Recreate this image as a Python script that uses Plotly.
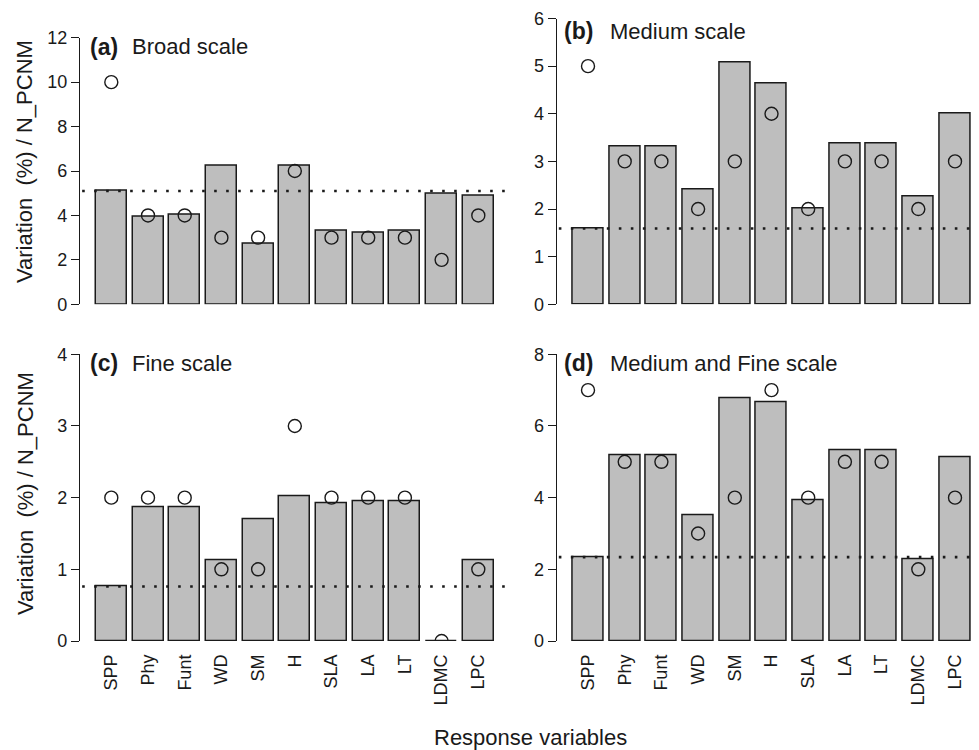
import plotly.graph_objects as go

variables = ["SPP", "Phy", "Funt", "WD", "SM", "H", "SLA", "LA", "LT", "LDMC", "LPC"]

broad_bar = [5.1, 3.93, 4.02, 6.25, 2.73, 6.25, 3.3, 3.24, 3.3, 4.98, 4.9]
broad_pt = [10, 4, 4, 3, 3, 6, 3, 3, 3, 2, 4]

medium_bar = [1.59, 3.32, 3.32, 2.41, 5.08, 4.63, 2.01, 3.37, 3.37, 2.27, 4.01]
medium_pt = [5, 3, 3, 2, 3, 4, 2, 3, 3, 2, 3]

fine_bar = [0.76, 1.86, 1.86, 1.12, 1.70, 2.02, 1.92, 1.945, 1.945, 0.0, 1.12]
fine_pt = [2, 2, 2, 1, 1, 3, 2, 2, 2, 0, 1]

medfine_bar = [2.34, 5.18, 5.18, 3.52, 6.78, 6.66, 3.94, 5.32, 5.32, 2.27, 5.13]
medfine_pt = [7, 5, 5, 3, 4, 7, 4, 5, 5, 2, 4]

panels = [
    ("(a)", "Broad scale", broad_bar, broad_pt, [0, 2, 4, 6, 8, 10, 12]),
    ("(b)", "Medium scale", medium_bar, medium_pt, [0, 1, 2, 3, 4, 5, 6]),
    ("(c)", "Fine scale", fine_bar, fine_pt, [0, 1, 2, 3, 4]),
    ("(d)", "Medium and Fine scale", medfine_bar, medfine_pt, [0, 2, 4, 6, 8]),
]

# page body has an 8px default margin; lay out in page pixels and shift
OFF = 8
W, H = 979 - OFF, 750 - OFF
FONT = "Liberation Sans, Arial, sans-serif"
INK = "#1a1a1a"


def px(xp):
    return (xp - OFF) / W


def py(yp):
    return 1 - (yp - OFF) / H


# page-pixel geometry of each panel: (left, right, top, bottom)
geom = [
    (80, 510, 37.7, 304.3),
    (556.7, 979, 18.5, 304.3),
    (80, 510, 354.3, 641),
    (556.7, 979, 354.3, 641),
]
# page-pixel (x of bold tag, x of title text, y centre) of each panel heading
heads = [(88, 130, 46.5), (562, 608, 31), (88, 130, 363), (562, 608, 363)]
unit_px = 36.7
x_left = -0.853

fig = go.Figure()
xs = list(range(len(variables)))

annotations = []
shapes = []
layout_axes = {}

for i, (tag, title, bars, pts, yt) in enumerate(panels):
    n = "" if i == 0 else str(i + 1)
    xa, ya = "x" + n, "y" + n
    L, R, T, B = geom[i]
    fig.add_trace(go.Bar(
        x=xs, y=bars, width=0.845, xaxis=xa, yaxis=ya,
        marker=dict(color="#bebebe", line=dict(color=INK, width=1.5)),
        showlegend=False, hoverinfo="skip",
    ))
    fig.add_trace(go.Scatter(
        x=xs, y=pts, mode="markers", xaxis=xa, yaxis=ya,
        marker=dict(symbol="circle-open", size=13, color=INK, line=dict(width=1.4, color=INK)),
        showlegend=False, hoverinfo="skip",
    ))
    x_right = x_left + (R - L) / unit_px
    bottom_row = i >= 2
    layout_axes["xaxis" + n] = dict(
        domain=[px(L), min(1.0, px(R))], range=[x_left, x_right], anchor=ya,
        tickvals=xs, ticktext=variables if bottom_row else [""] * len(xs),
        showticklabels=bottom_row, tickangle=-90, ticks="",
        ticklabelstandoff=9, automargin=False, ticklabeloverflow="allow",
        showline=False, showgrid=False, zeroline=False,
        tickfont=dict(family=FONT, size=18, color=INK),
    )
    layout_axes["yaxis" + n] = dict(
        domain=[py(B), py(T)], range=[0, yt[-1]], anchor=xa,
        tickvals=yt, ticks="outside", ticklen=8, tickwidth=1.2, tickcolor=INK,
        showline=True, linecolor=INK, linewidth=1.2, automargin=False,
        ticklabeloverflow="allow",
        showgrid=False, zeroline=False,
        tickfont=dict(family=FONT, size=18, color=INK),
    )
    # reference dotted line at the SPP level
    shapes.append(dict(
        type="line", xref=xa + " domain", yref=ya, x0=0.005, x1=1, y0=bars[0], y1=bars[0],
        line=dict(color=INK, width=2.6, dash="2.6px,9.4px"), layer="above",
    ))
    hx_tag, hx_title, hy = heads[i]
    annotations.append(dict(
        text="<b>" + tag + "</b>", xref="paper", yref="paper",
        x=px(hx_tag), y=py(hy), xanchor="left", yanchor="middle", showarrow=False,
        font=dict(family=FONT, size=23, color=INK),
    ))
    annotations.append(dict(
        text=title, xref="paper", yref="paper",
        x=px(hx_title), y=py(hy),
        xanchor="left", yanchor="middle", showarrow=False,
        font=dict(family=FONT, size=22, color=INK),
    ))

ylabel = "Variation\u00a0\u00a0(%) / N_PCNM"
for yc in (162, 494):
    annotations.append(dict(
        text=ylabel, xref="paper", yref="paper", x=px(25), y=py(yc),
        xanchor="center", yanchor="middle", textangle=-90, showarrow=False,
        font=dict(family=FONT, size=22, color=INK),
    ))

annotations.append(dict(
    text="Response variables", xref="paper", yref="paper", x=px(530), y=py(737),
    xanchor="center", yanchor="middle", showarrow=False,
    font=dict(family=FONT, size=22, color=INK),
))

fig.update_layout(
    width=W, height=H, autosize=False,
    margin=dict(l=0, r=0, t=0, b=0, pad=0, autoexpand=False),
    paper_bgcolor="white", plot_bgcolor="white",
    bargap=0, annotations=annotations, shapes=shapes,
    **layout_axes,
)

fig.write_html("out.html")
